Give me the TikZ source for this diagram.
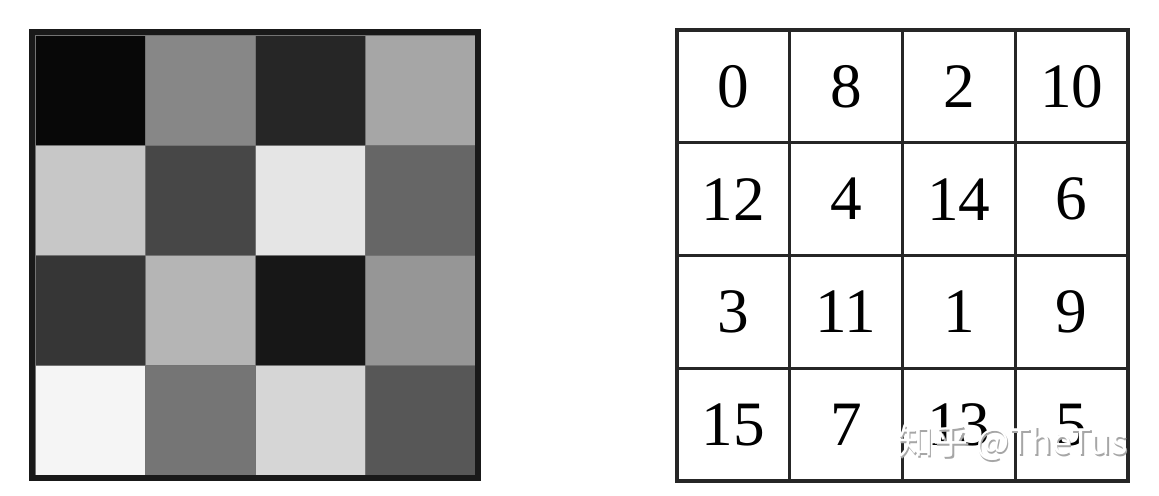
\documentclass[tikz,border=0pt]{standalone}
\usepackage{fontspec}
\newfontfamily\cjk{Noto Sans CJK SC}
\newfontfamily\digitfont{Liberation Serif}
\begin{document}
\begin{tikzpicture}[
  x=0.02cm, y=-0.02cm,
  pixel/.style={rectangle, draw=black!55, line width=0.3pt, minimum size=2.2cm, inner sep=0pt, outer sep=0pt},
  cell/.style={rectangle, draw=black!85, line width=1.8pt, minimum size=2.255cm, inner sep=0pt, font=\digitfont\fontsize{36}{40}\selectfont},
  wmark/.style={anchor=west, inner sep=0pt, font=\cjk\fontsize{20}{22}\selectfont}
]
\useasboundingbox (0,0) rectangle (1159,495);

% Gray blocks and threshold values
\foreach \v [count=\i from 0] in {0,8,2,10,12,4,14,6,3,11,1,9,15,7,13,5} {
  \pgfmathtruncatemacro\row{int(\i/4)}
  \pgfmathtruncatemacro\col{mod(\i,4)}
  \pgfmathtruncatemacro\lvl{(\v+0.5)*100/16}
  \node[pixel, fill=white!\lvl!black] (px-\row-\col) at (90+110*\col, 90+110*\row) {};
  \node[cell] (num-\row-\col) at (733.4+112.75*\col, 86.4+112.75*\row) {\v};
}

% Frame of the gray blocks
\draw[black!90, line width=3.4pt] ([shift={(-3,-3)}]px-0-0.north west) rectangle ([shift={(3,3)}]px-3-3.south east);

% Watermark
\node[wmark, text=gray!70] (markshade) at (899.5,444.5) {知乎 @TheTus};
\node[wmark, text=white] (mark) at (898,443) {知乎 @TheTus};
\end{tikzpicture}
\end{document}
